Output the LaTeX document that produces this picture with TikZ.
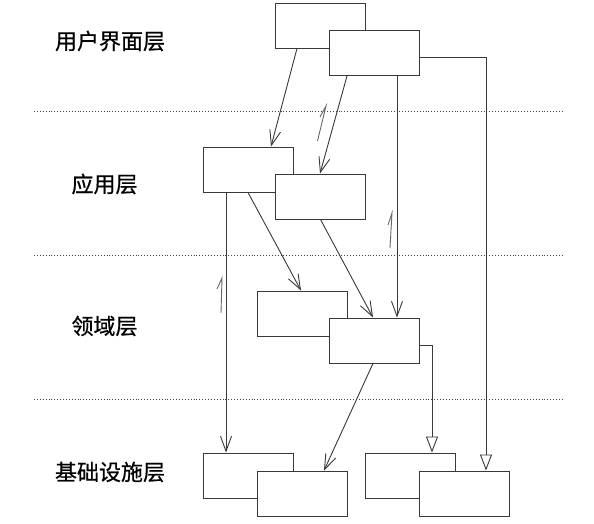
\documentclass[tikz,border=0pt]{standalone}
\usepackage{fontspec}
\newfontfamily\cjk[FakeBold=0.6]{Noto Sans CJK SC}
\usetikzlibrary{arrows.meta}
\begin{document}
\begin{tikzpicture}[x=1pt,y=-1pt,
  linecol/.style={draw=black!78, line width=0.9pt},
  box/.style={linecol, fill=white, rectangle, minimum width=90pt, minimum height=45pt, inner sep=0pt},
  layerlabel/.style={font=\cjk\fontsize{22}{22}\selectfont, inner sep=0pt, text=black},
  sep/.style={draw=black!75, line width=0.9pt, dash pattern=on 0.9pt off 2pt},
  dep/.style={linecol, -{Straight Barb[length=15pt,width=11pt]}},
  impl/.style={linecol, -{Triangle[length=16pt,width=12pt,fill=white]}},
  dirmark/.style={draw=black!60, line width=0.9pt}]
\useasboundingbox (0,0) rectangle (594,524);
% separators
\draw[sep] (34,111) -- (563,111);
\draw[sep] (34,255) -- (563,255);
\draw[sep] (34,399) -- (563,399);
% labels
\node[layerlabel] (l1) at (110,41) {用户界面层};
\node[layerlabel] (l2) at (104.5,184) {应用层};
\node[layerlabel] (l3) at (104.5,326) {领域层};
\node[layerlabel] (l4) at (110,472) {基础设施层};
% boxes
\node[box] (ui1) at (320.5,25.5) {};
\node[box] (ui2) at (374,53) {};
\node[box] (app1) at (248,169.5) {};
\node[box] (app2) at (320.5,196.5) {};
\node[box] (dom1) at (302,313.5) {};
\node[box] (dom2) at (374,340.5) {};
\node[box] (inf1) at (248,475.5) {};
\node[box] (inf2) at (302,493.5) {};
\node[box] (inf3) at (410,475.5) {};
\node[box] (inf4) at (464,493.5) {};
% connectors
\draw[dep] ([xshift=-23.5pt]ui1.south) -- ([xshift=23pt]app1.north);
\draw[dep] ([xshift=-27pt]ui2.south) -- ([xshift=-0.5pt]app2.north);
\draw[dep] ([xshift=23pt]ui2.south) -- ([xshift=23pt]dom2.north);
\draw[impl] ([yshift=-4pt]ui2.east) -| ([xshift=22pt]inf4.north);
\draw[dep] ([xshift=-22pt]app1.south) -- ([xshift=-22pt]inf1.north);
\draw[dep] (app1.south) -- ([xshift=-1pt]dom1.north);
\draw[dep] (app2.south) -- ([xshift=-1pt]dom2.north);
\draw[impl] ([yshift=-4.5pt]dom2.east) -| ([xshift=22pt]inf3.north);
\draw[dep] ([xshift=-1pt]dom2.south) -- ([xshift=22pt]inf2.north);
% direction marks
\draw[dirmark] (317.5,141) -- (326,106) -- (320,117);
\draw[dirmark] (390,248) -- (392,213) -- (388,225);
\draw[dirmark] (221,313) -- (222,278) -- (217,289);
\end{tikzpicture}
\end{document}
